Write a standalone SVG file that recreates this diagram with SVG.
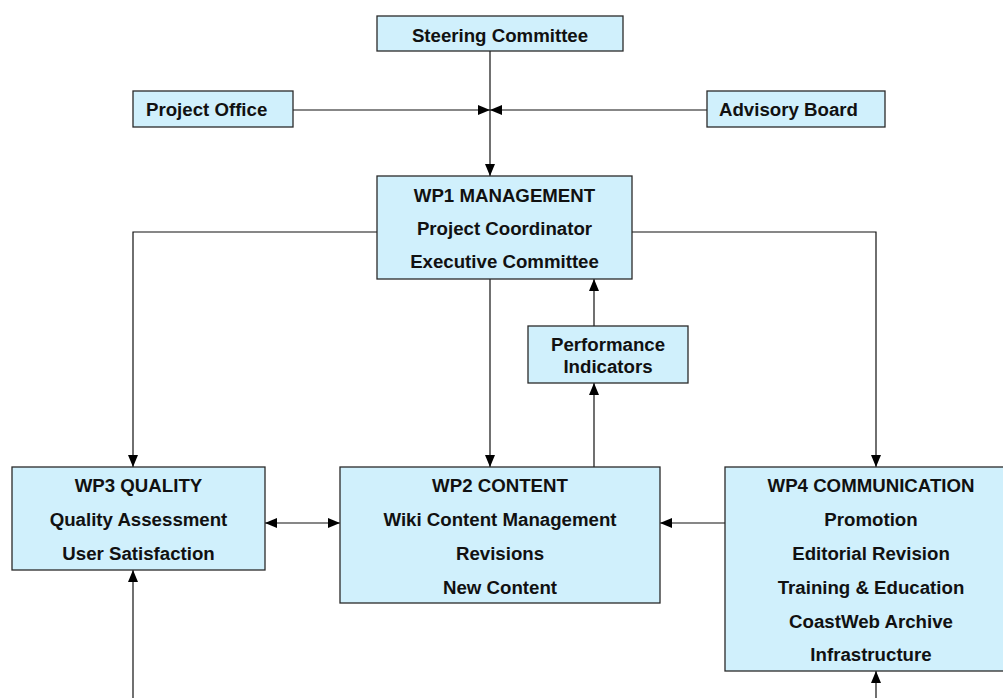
<svg xmlns="http://www.w3.org/2000/svg" width="1003" height="698" viewBox="0 0 1003 698">
  <defs>
    <style>
      .box { fill: #D0F0FC; stroke: #2a2a2a; stroke-width: 1.3; }
      .lbl { font-family: "Liberation Sans", Arial, sans-serif; font-weight: bold; font-size: 18.67px; fill: #111; }
      .c { text-anchor: middle; }
      .wire { fill: none; stroke: #111; stroke-width: 1.2; }
    </style>
    <marker id="head" viewBox="0 0 12 10" refX="12" refY="5" markerWidth="12" markerHeight="10" markerUnits="userSpaceOnUse" orient="auto-start-reverse">
      <path d="M0,0 L12,5 L0,10 Z" fill="#000"/>
    </marker>
  </defs>
  <rect width="1003" height="698" fill="#fff"/>

  <!-- connectors -->
  <g id="connectors" class="wire">
    <path d="M490,51 V176" marker-end="url(#head)"/>
    <path d="M293,110 H490" marker-end="url(#head)"/>
    <path d="M707,110 H490" marker-end="url(#head)"/>
    <path d="M377,232 H133 V467" marker-end="url(#head)"/>
    <path d="M632,232 H876 V467" marker-end="url(#head)"/>
    <path d="M490,279 V467" marker-end="url(#head)"/>
    <path d="M594,326 V279" marker-end="url(#head)"/>
    <path d="M594,467 V383" marker-end="url(#head)"/>
    <path d="M265,523 H340" marker-start="url(#head)" marker-end="url(#head)"/>
    <path d="M725,523 H660" marker-end="url(#head)"/>
    <path d="M133,698 V570" marker-end="url(#head)"/>
    <path d="M876,698 V671" marker-end="url(#head)"/>
  </g>

  <g id="steering">
    <rect class="box" x="377" y="16" width="246" height="35"/>
    <text class="lbl c" x="500" y="41.5">Steering Committee</text>
  </g>

  <g id="office">
    <rect class="box" x="133" y="91" width="160" height="36"/>
    <text class="lbl" x="146" y="116">Project Office</text>
  </g>

  <g id="advisory">
    <rect class="box" x="707" y="91" width="178" height="36"/>
    <text class="lbl" x="719" y="116">Advisory Board</text>
  </g>

  <g id="wp1">
    <rect class="box" x="377" y="176" width="255" height="103"/>
    <text class="lbl c" x="504.5" y="201.5">WP1 MANAGEMENT</text>
    <text class="lbl c" x="504.5" y="234.5">Project Coordinator</text>
    <text class="lbl c" x="504.5" y="268">Executive Committee</text>
  </g>

  <g id="indicators">
    <rect class="box" x="528" y="326" width="160" height="57"/>
    <text class="lbl c" x="608" y="351">Performance</text>
    <text class="lbl c" x="608" y="373">Indicators</text>
  </g>

  <g id="wp3">
    <rect class="box" x="12" y="467" width="253" height="103"/>
    <text class="lbl c" x="138.5" y="492">WP3 QUALITY</text>
    <text class="lbl c" x="138.5" y="526">Quality Assessment</text>
    <text class="lbl c" x="138.5" y="560">User Satisfaction</text>
  </g>

  <g id="wp2">
    <rect class="box" x="340" y="467" width="320" height="136"/>
    <text class="lbl c" x="500" y="492">WP2 CONTENT</text>
    <text class="lbl c" x="500" y="526">Wiki Content Management</text>
    <text class="lbl c" x="500" y="560">Revisions</text>
    <text class="lbl c" x="500" y="593.5">New Content</text>
  </g>

  <g id="wp4">
    <rect class="box" x="725" y="467" width="292" height="204"/>
    <text class="lbl c" x="871" y="492">WP4 COMMUNICATION</text>
    <text class="lbl c" x="871" y="526">Promotion</text>
    <text class="lbl c" x="871" y="560">Editorial Revision</text>
    <text class="lbl c" x="871" y="593.5">Training &amp; Education</text>
    <text class="lbl c" x="871" y="627.5">CoastWeb Archive</text>
    <text class="lbl c" x="871" y="661">Infrastructure</text>
  </g>
</svg>
